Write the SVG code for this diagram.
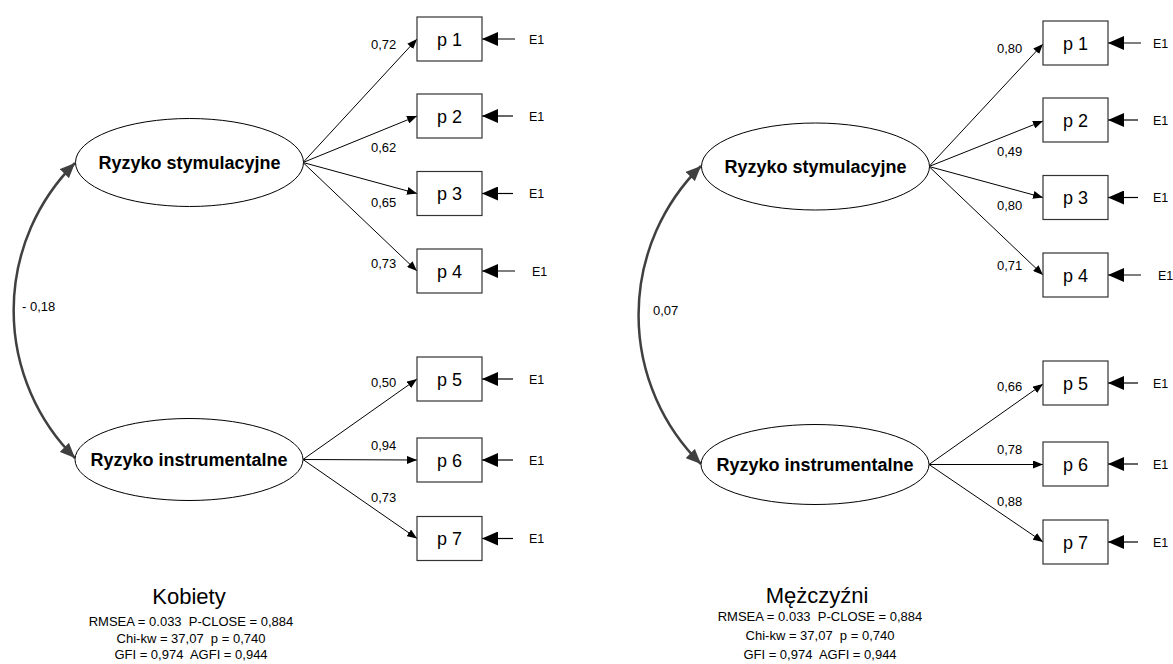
<svg xmlns="http://www.w3.org/2000/svg" width="1173" height="664" viewBox="0 0 1173 664">
<style>
.box{fill:#fff;stroke:#333;stroke-width:1.2}
.ell{fill:#fff;stroke:#000;stroke-width:1}
.lat{font-family:"Liberation Sans",Arial,sans-serif;font-weight:bold;font-size:18px;text-anchor:middle;fill:#000}
.obs{font-family:"Liberation Sans",Arial,sans-serif;font-size:18px;text-anchor:middle;fill:#000}
.err{font-family:"Liberation Sans",Arial,sans-serif;font-size:12.5px;fill:#000}
.lbl{font-family:"Liberation Sans",Arial,sans-serif;font-size:13px;fill:#000}
.ttl{font-family:"Liberation Sans",Arial,sans-serif;font-size:22px;text-anchor:middle;fill:#000}
.st{font-family:"Liberation Sans",Arial,sans-serif;font-size:13px;text-anchor:middle;fill:#000;white-space:pre}
.ld{stroke:#000;stroke-width:1;fill:none;marker-end:url(#mLoad)}
.el{stroke:#000;stroke-width:1.2;fill:none;marker-end:url(#mErr)}
.cv{stroke:#404040;stroke-width:2.5;fill:none;marker-start:url(#mCov);marker-end:url(#mCov)}
</style>
<defs>
<marker id="mLoad" markerUnits="userSpaceOnUse" markerWidth="10" markerHeight="8" refX="10" refY="4" orient="auto"><path d="M0,0 L10,4 L0,8 z" fill="#000"/></marker>
<marker id="mErr" markerUnits="userSpaceOnUse" markerWidth="16" markerHeight="14" refX="16" refY="7" orient="auto"><path d="M0,0 L16,7 L0,14 z" fill="#000"/></marker>
<marker id="mCov" markerUnits="userSpaceOnUse" markerWidth="15" markerHeight="13" refX="15" refY="6.5" orient="auto-start-reverse"><path d="M0,0 L15,6.5 L0,13 z" fill="#404040"/></marker>
</defs>

<g id="connectors">
<path class="cv" d="M75,163 A208,208 0 0 0 75,458"/>
<line class="ld" x1="303" y1="162.5" x2="417" y2="39"/>
<line class="ld" x1="303" y1="162.5" x2="417" y2="116"/>
<line class="ld" x1="303" y1="162.5" x2="417" y2="193.5"/>
<line class="ld" x1="303" y1="162.5" x2="417" y2="271"/>
<line class="ld" x1="303" y1="459.5" x2="417" y2="379"/>
<line class="ld" x1="303" y1="459.5" x2="417" y2="460"/>
<line class="ld" x1="303" y1="459.5" x2="417" y2="538.5"/>
<line class="el" x1="515" y1="39" x2="482" y2="39"/>
<line class="el" x1="513" y1="116" x2="482" y2="116"/>
<line class="el" x1="513" y1="193.5" x2="482" y2="193.5"/>
<line class="el" x1="515" y1="271" x2="482" y2="271"/>
<line class="el" x1="513" y1="379" x2="482" y2="379"/>
<line class="el" x1="513" y1="460" x2="482" y2="460"/>
<line class="el" x1="513" y1="538.5" x2="482" y2="538.5"/>
<path class="cv" d="M701,166 A209,209 0 0 0 701,464"/>
<line class="ld" x1="929" y1="166.5" x2="1043" y2="44"/>
<line class="ld" x1="929" y1="166.5" x2="1043" y2="121"/>
<line class="ld" x1="929" y1="166.5" x2="1043" y2="197.5"/>
<line class="ld" x1="929" y1="166.5" x2="1043" y2="275"/>
<line class="ld" x1="929" y1="464.5" x2="1043" y2="384"/>
<line class="ld" x1="929" y1="464.5" x2="1043" y2="464.5"/>
<line class="ld" x1="929" y1="464.5" x2="1043" y2="542"/>
<line class="el" x1="1141" y1="43" x2="1108" y2="43"/>
<line class="el" x1="1138" y1="120" x2="1108" y2="120"/>
<line class="el" x1="1138" y1="197.5" x2="1108" y2="197.5"/>
<line class="el" x1="1141" y1="275" x2="1108" y2="275"/>
<line class="el" x1="1138" y1="383" x2="1108" y2="383"/>
<line class="el" x1="1138" y1="464" x2="1108" y2="464"/>
<line class="el" x1="1138" y1="542" x2="1108" y2="542"/>
</g>

<g id="connector-labels">
<text class="lbl" x="22" y="311">- 0,18</text>
<text class="lbl" x="371" y="49">0,72</text>
<text class="lbl" x="371" y="151.5">0,62</text>
<text class="lbl" x="371" y="206.5">0,65</text>
<text class="lbl" x="371" y="268">0,73</text>
<text class="lbl" x="371" y="386.5">0,50</text>
<text class="lbl" x="371" y="449.5">0,94</text>
<text class="lbl" x="371" y="501.5">0,73</text>
<text class="lbl" x="653" y="315">0,07</text>
<text class="lbl" x="997" y="53">0,80</text>
<text class="lbl" x="997" y="156">0,49</text>
<text class="lbl" x="997" y="210">0,80</text>
<text class="lbl" x="997" y="269.5">0,71</text>
<text class="lbl" x="997" y="390.5">0,66</text>
<text class="lbl" x="997" y="454">0,78</text>
<text class="lbl" x="997" y="506">0,88</text>
</g>

<g id="L-stym"><ellipse class="ell" cx="189.5" cy="162.5" rx="114" ry="44"/><text class="lat" x="189.5" y="168.5">Ryzyko stymulacyjne</text></g>
<g id="L-instr"><ellipse class="ell" cx="189" cy="459.5" rx="114" ry="41"/><text class="lat" x="189" y="465.5">Ryzyko instrumentalne</text></g>
<g id="L-p1"><rect class="box" x="417" y="17" width="65" height="44"/><text class="obs" x="449.5" y="45.5">p 1</text></g>
<g id="L-p2"><rect class="box" x="417" y="94" width="65" height="44"/><text class="obs" x="449.5" y="122.5">p 2</text></g>
<g id="L-p3"><rect class="box" x="417" y="171.5" width="65" height="44"/><text class="obs" x="449.5" y="200">p 3</text></g>
<g id="L-p4"><rect class="box" x="417" y="249" width="65" height="44"/><text class="obs" x="449.5" y="277.5">p 4</text></g>
<g id="L-p5"><rect class="box" x="417" y="357" width="65" height="44"/><text class="obs" x="449.5" y="385.5">p 5</text></g>
<g id="L-p6"><rect class="box" x="417" y="438" width="65" height="44"/><text class="obs" x="449.5" y="466.5">p 6</text></g>
<g id="L-p7"><rect class="box" x="417" y="516.5" width="65" height="44"/><text class="obs" x="449.5" y="545">p 7</text></g>
<g id="L-e1"><text class="err" x="529" y="43.5">E1</text></g>
<g id="L-e2"><text class="err" x="529" y="120.5">E1</text></g>
<g id="L-e3"><text class="err" x="529" y="198">E1</text></g>
<g id="L-e4"><text class="err" x="532" y="275.5">E1</text></g>
<g id="L-e5"><text class="err" x="529" y="383.5">E1</text></g>
<g id="L-e6"><text class="err" x="529" y="464.5">E1</text></g>
<g id="L-e7"><text class="err" x="529" y="543">E1</text></g>
<g id="L-caption">
<text class="ttl" x="189" y="604">Kobiety</text>
<text class="st" x="191" y="626" xml:space="preserve">RMSEA = 0.033  P-CLOSE = 0,884</text>
<text class="st" x="191" y="642.5" xml:space="preserve">Chi-kw = 37,07  p = 0,740</text>
<text class="st" x="191" y="659" xml:space="preserve">GFI = 0,974  AGFI = 0,944</text>
</g>

<g id="R-stym"><ellipse class="ell" cx="815.5" cy="166.5" rx="114" ry="43.5"/><text class="lat" x="815.5" y="172.5">Ryzyko stymulacyjne</text></g>
<g id="R-instr"><ellipse class="ell" cx="815" cy="464.5" rx="114" ry="40"/><text class="lat" x="815" y="470.5">Ryzyko instrumentalne</text></g>
<g id="R-p1"><rect class="box" x="1043" y="21" width="65" height="44"/><text class="obs" x="1075.5" y="49.5">p 1</text></g>
<g id="R-p2"><rect class="box" x="1043" y="98" width="65" height="44"/><text class="obs" x="1075.5" y="126.5">p 2</text></g>
<g id="R-p3"><rect class="box" x="1043" y="175.5" width="65" height="44"/><text class="obs" x="1075.5" y="204">p 3</text></g>
<g id="R-p4"><rect class="box" x="1043" y="253" width="65" height="44"/><text class="obs" x="1075.5" y="281.5">p 4</text></g>
<g id="R-p5"><rect class="box" x="1043" y="361" width="65" height="44"/><text class="obs" x="1075.5" y="389.5">p 5</text></g>
<g id="R-p6"><rect class="box" x="1043" y="442" width="65" height="44"/><text class="obs" x="1075.5" y="470.5">p 6</text></g>
<g id="R-p7"><rect class="box" x="1043" y="520" width="65" height="44"/><text class="obs" x="1075.5" y="548.5">p 7</text></g>
<g id="R-e1"><text class="err" x="1153" y="47.5">E1</text></g>
<g id="R-e2"><text class="err" x="1153" y="124.5">E1</text></g>
<g id="R-e3"><text class="err" x="1153" y="202">E1</text></g>
<g id="R-e4"><text class="err" x="1158" y="279.5">E1</text></g>
<g id="R-e5"><text class="err" x="1153" y="387.5">E1</text></g>
<g id="R-e6"><text class="err" x="1153" y="468.5">E1</text></g>
<g id="R-e7"><text class="err" x="1153" y="546.5">E1</text></g>
<g id="R-caption">
<text class="ttl" x="817" y="603">Mężczyźni</text>
<text class="st" x="820" y="621" xml:space="preserve">RMSEA = 0.033  P-CLOSE = 0,884</text>
<text class="st" x="820" y="640" xml:space="preserve">Chi-kw = 37,07  p = 0,740</text>
<text class="st" x="820" y="659" xml:space="preserve">GFI = 0,974  AGFI = 0,944</text>
</g>
</svg>
